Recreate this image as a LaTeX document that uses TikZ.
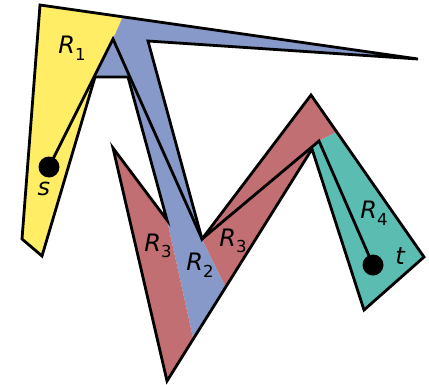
\documentclass[tikz,border=0pt]{standalone}
\usepackage{fontspec}
\newfontfamily\lab{DejaVu Sans}
\usetikzlibrary{calc}
\definecolor{cyel}{RGB}{255,237,102}
\definecolor{cblue}{RGB}{135,153,200}
\definecolor{cred}{RGB}{193,111,114}
\definecolor{cteal}{RGB}{91,189,177}
\newcommand\Rlab[1]{{\itshape R}\raisebox{-6.5pt}{\fontsize{16.5pt}{16.5pt}\selectfont #1}}
\begin{document}
\begin{tikzpicture}[x=1pt,y=-1pt,
  outline/.style={draw=black,line width=2.8pt,line join=miter},
  pathline/.style={draw=black,line width=2.8pt,line join=miter},
  dot/.style={circle,fill=black,inner sep=0pt,minimum size=21pt},
  lbl/.style={inner sep=0pt,font=\lab\fontsize{24pt}{24pt}\selectfont}]
\useasboundingbox (0,0) rectangle (429,384);
% polygon vertices
\coordinate (P1) at (40,5);
\coordinate (P2) at (418,59);
\coordinate (P3) at (148,41);
\coordinate (P4) at (202,239);
\coordinate (P5) at (311,95);
\coordinate (P6) at (424,257);
\coordinate (P7) at (364,310);
\coordinate (P8) at (312,149);
\coordinate (P9) at (167,381);
\coordinate (P10) at (113,148);
\coordinate (P11) at (167,220);
\coordinate (P12) at (128,77);
\coordinate (P13) at (95,77);
\coordinate (P14) at (42,256);
\coordinate (P15) at (22,239);
% region boundary points
\coordinate (A) at (113,39);
\coordinate (Y1) at ($(P1)!0.219!(P2)$);
\coordinate (B1) at ($(P8)!0.819!(P9)$);
\coordinate (B2) at ($(P8)!0.595!(P9)$);
\coordinate (T1) at ($(P5)!0.228!(P6)$);
\coordinate (Q) at (319,141);
% fills
\fill[cyel] (P1) -- (Y1) -- (A) -- (P13) -- (P14) -- (P15) -- cycle;
\fill[cblue] (Y1) -- (P2) -- (P3) -- (P4) -- (B2) -- (B1) -- (P11) -- (P12) -- (P13) -- (A) -- cycle;
\fill[cred] (P10) -- (P11) -- (B1) -- (P9) -- cycle;
\fill[cred] (P4) -- (P5) -- (T1) -- (Q) -- (P8) -- (B2) -- cycle;
\fill[cteal] (T1) -- (P6) -- (P7) -- (P8) -- (Q) -- cycle;
% outline
\draw[outline] (P1) -- (P2) -- (P3) -- (P4) -- (P5) -- (P6) -- (P7) -- (P8) -- (P9) -- (P10) -- (P11) -- (P12) -- (P13) -- (P14) -- (P15) -- cycle;
% endpoints
\node[dot] (s) at (49,167) {};
\node[dot] (t) at (373,265) {};
% shortest path
\draw[pathline] (s.center) -- (A) -- (P4) -- (Q) -- (t.center);
% labels
\node[lbl] (l1) at (72,48) {\Rlab{1}};
\node[lbl] (l2) at (200,265) {\Rlab{2}};
\node[lbl] (l3a) at (158,246) {\Rlab{3}};
\node[lbl] (l3b) at (233,241) {\Rlab{3}};
\node[lbl] (l4) at (374,213) {\Rlab{4}};
\node[lbl] (ls) at (44,189) {\itshape s};
\node[lbl] (lt) at (400,256) {\itshape t};
\end{tikzpicture}
\end{document}
